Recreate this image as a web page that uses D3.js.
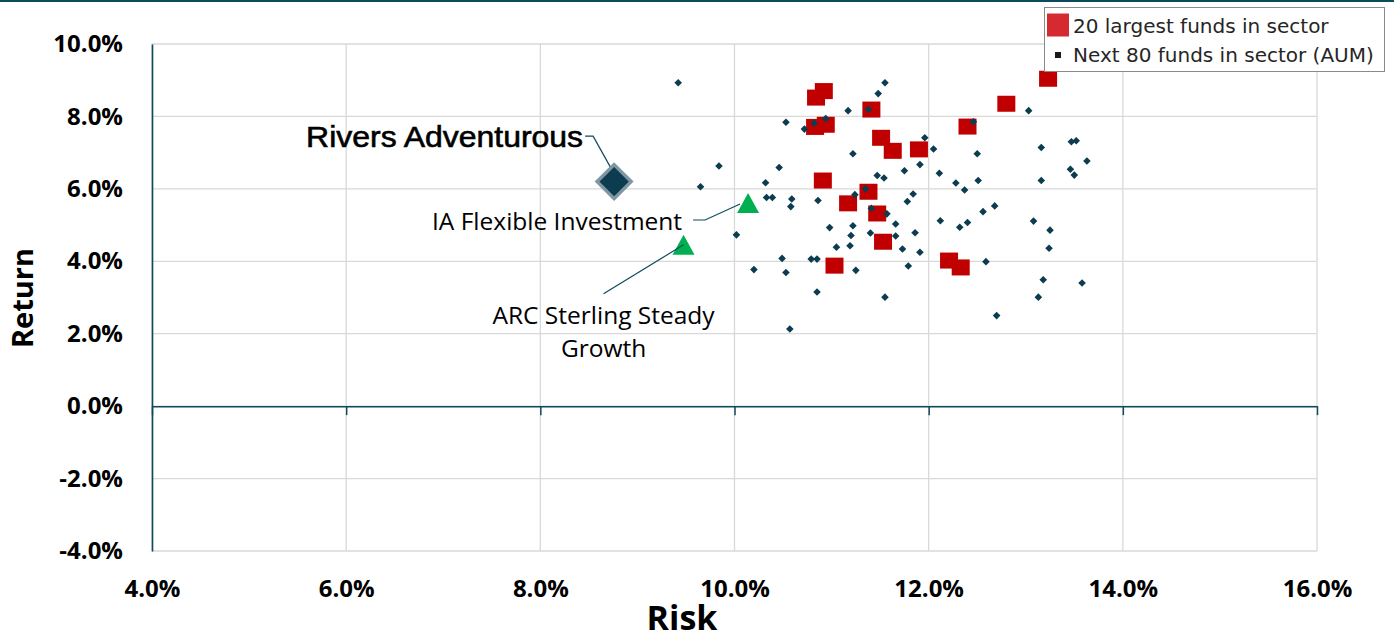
<!DOCTYPE html>
<html><head><meta charset="utf-8">
<script src="https://cdn.jsdelivr.net/npm/d3@7"></script>
<style>body{margin:0;background:#fff;} svg{display:block;}</style>
</head><body><svg id="c" width="1394" height="639"></svg>
<script>
// ---- data ----
const xTicks = [4, 6, 8, 10, 12, 14, 16];
const yTicks = [-4, -2, 0, 2, 4, 6, 8, 10];

const top20Risk   = [10.92,10.84,11.41,10.83,10.94,11.51,11.63,11.90,10.91,11.38,11.17,11.47,11.53,11.03,13.23,12.80,12.40,12.21,12.33];
const top20Return = [ 8.70, 8.52, 8.19, 7.71, 7.77, 7.41, 7.05, 7.09, 6.23, 5.92, 5.60, 5.32, 4.54, 3.88, 9.04, 8.35, 7.72, 4.02, 3.83];

const next80Risk = [9.42,11.55,11.48,11.17,11.38,10.53,10.82,10.94,10.72,11.96,12.05,11.22,9.84,10.46,11.91,11.75,12.11,11.47,11.54,9.65,
  10.32,11.35,10.33,10.39,10.59,10.58,10.86,11.24,11.84,11.78,11.41,11.57,12.12,10.02,10.98,11.22,11.20,11.40,11.66,11.66,
  11.86,11.05,11.19,11.73,11.91,10.49,10.79,10.85,10.20,10.53,11.25,11.79,10.85,11.55,10.57,13.03,12.46,12.50,13.16,13.47,
  13.52,13.63,12.28,12.37,12.51,13.16,13.46,13.50,12.68,12.56,12.32,12.40,13.08,13.25,13.24,12.59,13.18,13.58,13.13,12.70];
const next80Return = [8.93,8.93,8.63,8.16,8.19,7.84,7.81,7.94,7.65,7.41,7.10,6.97,6.63,6.59,6.67,6.50,6.43,6.37,6.30,6.06,
  6.17,6.00,5.76,5.76,5.72,5.51,5.68,5.84,5.86,5.65,5.46,5.31,5.12,4.73,4.93,4.98,4.71,4.78,5.03,4.70,
  4.79,4.39,4.43,4.34,4.25,4.08,4.06,4.06,3.77,3.69,3.75,3.87,3.15,3.01,2.13,8.16,7.85,6.97,7.14,7.30,
  7.33,6.77,6.16,5.97,6.23,6.23,6.54,6.38,5.53,5.37,4.94,5.07,5.11,4.86,4.36,3.99,3.49,3.40,3.01,2.50];

const fundName = "Rivers Adventurous";
const fundRisk = 8.76;
const fundReturn = 6.20;

const benchNames  = ["IA Flexible Investment", "ARC Sterling Steady Growth"];
const benchRisk   = [10.14, 9.475];
const benchReturn = [5.61, 4.455];

const legendLabels = ["20 largest funds in sector", "Next 80 funds in sector (AUM)"];

// ---- chart ----
const svg = d3.select("#c");
const W = 1394, H = 639;
const L = 152, R = 1317, T = 44, B = 551;
const x = d3.scaleLinear().domain([4, 16]).range([L, R]);
const y = d3.scaleLinear().domain([-4, 10]).range([B, T]);
const teal = "#0e4a5e", dot = "#0c3c50", grid = "#d9d9d9";
const pct = d => d.toFixed(1) + "%";

// top band line
svg.append("rect").attr("x", 0).attr("y", 0).attr("width", W).attr("height", 2).attr("fill", teal);

// gridlines
svg.append("g").selectAll("line").data(xTicks).join("line")
  .attr("x1", d => x(d)).attr("x2", d => x(d)).attr("y1", T).attr("y2", B)
  .attr("stroke", grid).attr("stroke-width", 1.3);
svg.append("g").selectAll("line").data(yTicks).join("line")
  .attr("x1", L).attr("x2", R).attr("y1", d => y(d)).attr("y2", d => y(d))
  .attr("stroke", grid).attr("stroke-width", 1.3);

// zero axis with ticks
const zAx = svg.append("g").attr("transform", `translate(0,${y(0)})`)
  .call(d3.axisBottom(x).tickValues(xTicks).tickSizeInner(9).tickSizeOuter(0).tickFormat(""));
zAx.select(".domain").attr("stroke", teal).attr("stroke-width", 1.5);
zAx.selectAll(".tick line").attr("stroke", teal).attr("stroke-width", 1.5);

// y axis
const yAx = svg.append("g").attr("transform", `translate(${L},0)`)
  .call(d3.axisLeft(y).tickValues(yTicks).tickSize(0).tickPadding(29).tickFormat(pct));
yAx.select(".domain").attr("stroke", teal).attr("stroke-width", 1.6);
yAx.selectAll("text").attr("font-family", "'Open Sans', sans-serif").attr("font-weight", "bold")
  .attr("font-size", 24).attr("fill", "#000");

// x labels
const xAx = svg.append("g").attr("transform", `translate(0,${B})`)
  .call(d3.axisBottom(x).tickValues(xTicks).tickSize(0).tickPadding(29).tickFormat(pct));
xAx.select(".domain").remove();
xAx.selectAll("text").attr("font-family", "'Open Sans', sans-serif").attr("font-weight", "bold")
  .attr("font-size", 24).attr("fill", "#000");

// axis titles
svg.append("text").attr("x", 682).attr("y", 630).attr("text-anchor", "middle")
  .attr("font-family", "'Open Sans', sans-serif").attr("font-weight", "bold").attr("font-size", 34)
  .attr("fill", "#000").text("Risk");
svg.append("text").attr("transform", "translate(33,298) rotate(-90)").attr("text-anchor", "middle")
  .attr("font-family", "'Open Sans', sans-serif").attr("font-weight", "bold").attr("font-size", 29)
  .attr("fill", "#000").text("Return");

// red squares (top 20)
const sqW = 18, sqH = 16;
svg.append("g").selectAll("rect").data(d3.range(top20Risk.length)).join("rect")
  .attr("x", i => x(top20Risk[i]) - sqW / 2).attr("y", i => y(top20Return[i]) - sqH / 2)
  .attr("width", sqW).attr("height", sqH).attr("fill", "#c00000");

// small diamonds (next 80)
const dsz = 3.8;
svg.append("g").selectAll("path").data(d3.range(next80Risk.length)).join("path")
  .attr("d", i => {
    const cx = x(next80Risk[i]), cy = y(next80Return[i]);
    return `M${cx},${cy - dsz}L${cx + dsz},${cy}L${cx},${cy + dsz}L${cx - dsz},${cy}Z`;
  })
  .attr("fill", dot);

// benchmark triangles
svg.append("g").selectAll("path").data(d3.range(benchNames.length)).join("path")
  .attr("d", i => {
    const cx = x(benchRisk[i]), cy = y(benchReturn[i]);
    return `M${cx},${cy - 10}L${cx + 11},${cy + 10}L${cx - 11},${cy + 10}Z`;
  })
  .attr("fill", "#00b050");

// Rivers diamond
{
  const cx = x(fundRisk), cy = y(fundReturn), s = 17;
  svg.append("path").attr("d", `M${cx},${cy - s}L${cx + s},${cy}L${cx},${cy + s}L${cx - s},${cy}Z`)
    .attr("fill", "#0d3b4f").attr("stroke", "#7f97a4").attr("stroke-width", 3.5);
}

// annotations
const lab = svg.append("g");
const leader = pts => lab.append("path").attr("d", d3.line()(pts)).attr("fill", "none")
  .attr("stroke", teal).attr("stroke-width", 1.2);

// Rivers label
{
  const cx = x(fundRisk), cy = y(fundReturn);
  lab.append("text").attr("x", cx - 31).attr("y", cy - 34.5).attr("text-anchor", "end")
    .attr("font-family", "'Liberation Sans', Arial, sans-serif").attr("font-size", 29)
    .attr("fill", "#000").attr("stroke", "#000").attr("stroke-width", 0.6)
    .attr("textLength", 277).attr("lengthAdjust", "spacingAndGlyphs").text(fundName);
  leader([[cx - 29, cy - 45.5], [cx - 21, cy - 45.5], [cx - 4, cy - 15]]);
}
// IA label
{
  const cx = x(benchRisk[0]), cy = y(benchReturn[0]);
  lab.append("text").attr("x", cx - 66).attr("y", cy + 27).attr("text-anchor", "end")
    .attr("font-family", "'Open Sans', sans-serif").attr("font-size", 24.5).attr("fill", "#000")
    .text(benchNames[0]);
  leader([[cx - 55, cy + 17], [cx - 43, cy + 17], [cx - 8, cy + 1]]);
}
// ARC label
{
  const cx = x(benchRisk[1]), cy = y(benchReturn[1]);
  const t = lab.append("text").attr("text-anchor", "middle")
    .attr("font-family", "'Open Sans', sans-serif").attr("font-size", 24.5).attr("fill", "#000");
  t.append("tspan").attr("x", cx - 80).attr("y", cy + 79).text("ARC Sterling Steady");
  t.append("tspan").attr("x", cx - 80).attr("y", cy + 112).text("Growth");
  leader([[cx - 80, cy + 49], [cx, cy]]);
}

// legend
const lg = svg.append("g");
lg.append("rect").attr("x", 1044.5).attr("y", 7.5).attr("width", 340).attr("height", 64)
  .attr("fill", "#fff").attr("stroke", "#8a8a8a").attr("stroke-width", 1);
lg.append("rect").attr("x", 1047).attr("y", 13.5).attr("width", 22).attr("height", 23).attr("fill", "#d52b30");
lg.append("rect").attr("x", 1055).attr("y", 52).attr("width", 6).attr("height", 6).attr("fill", "#1a1a1a");
lg.selectAll("text.lg").data(legendLabels).join("text").attr("class", "lg")
  .attr("x", 1073).attr("y", (d, i) => 33.3 + i * 29)
  .attr("font-family", "'DejaVu Sans', sans-serif").attr("font-size", 20).attr("fill", "#262626")
  .text(d => d);
</script></body></html>
